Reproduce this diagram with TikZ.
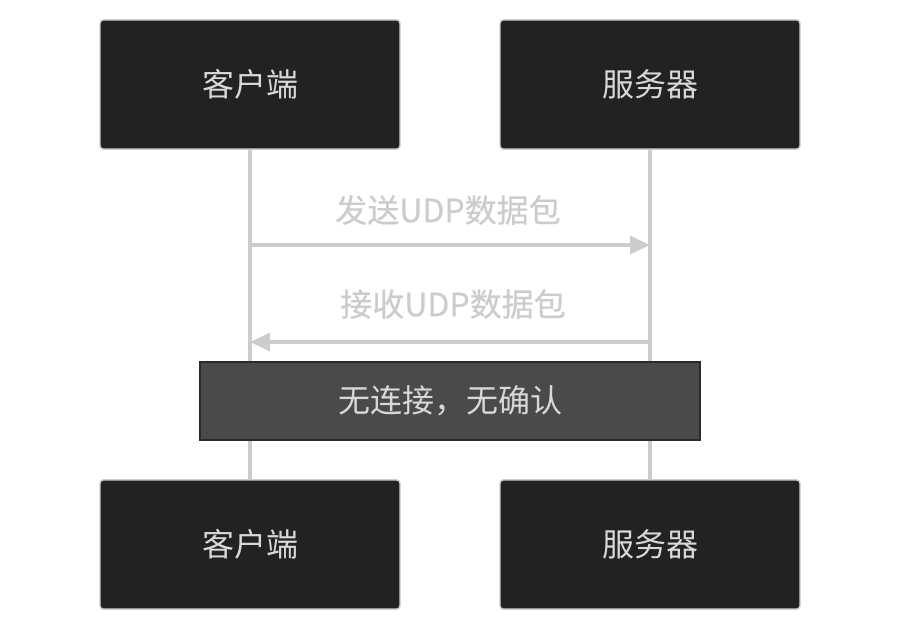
\documentclass[tikz,border=0pt]{standalone}
\usepackage{fontspec}
\newfontfamily\cjk{Noto Sans CJK SC}
\newfontfamily\cjkm[FakeBold=0.5]{Noto Sans CJK SC}
\usepackage{tikz}
\usetikzlibrary{arrows.meta}
\pgfdeclarelayer{bg}
\pgfsetlayers{bg,main}
\definecolor{boxfill}{HTML}{212221}
\definecolor{boxline}{HTML}{CFCFCF}
\definecolor{notefill}{HTML}{494A49}
\definecolor{noteline}{HTML}{2B2B2B}
\definecolor{txt}{HTML}{D8D8D8}
\definecolor{msgc}{HTML}{CCCCCC}
\tikzset{
    every node/.style={inner sep=0mm, font=\cjk\fontsize{24}{28}\selectfont},
    actor/.style={rectangle, rounded corners=2.5pt, draw=boxline, line width=1.1pt, fill=boxfill, text=txt, minimum width=225pt, minimum height=97pt},
    notebox/.style={rectangle, draw=noteline, line width=1.1pt, fill=notefill, text=txt, minimum width=375pt, minimum height=58.5pt},
    msglabel/.style={text=msgc, font=\cjkm\fontsize{24}{28}\selectfont},
    lifeline/.style={draw=msgc, line width=3pt},
    msg/.style={draw=msgc, line width=2.3pt, -{Triangle[length=15pt, width=13.5pt]}}
}

\begin{document}
\begin{tikzpicture}[x=0.75pt, y=-0.75pt]
        \useasboundingbox (0,0) rectangle (900,632);
        \node (c1) [actor] at (250, 84.5) {客户端};
        \node (s1) [actor] at (650, 84.5) {服务器};
        \node (c2) [actor] at (250, 544.5) {客户端};
        \node (s2) [actor] at (650, 544.5) {服务器};
        \node (n) [notebox] at (450, 401) {无连接，无确认};
        \node (l1) [msglabel] at (448, 210) {发送UDP数据包};
        \node (l2) [msglabel] at (453, 304) {接收UDP数据包};
        \coordinate (m1a) at (250, 245);
        \coordinate (m1b) at (650, 245);
        \coordinate (m2a) at (650, 342);
        \coordinate (m2b) at (250, 342);
        \begin{pgfonlayer}{bg}
                \draw [lifeline] (c1) -- (c2);
                \draw [lifeline] (s1) -- (s2);
        \end{pgfonlayer}
        \draw [msg] (m1a) -- (m1b);
        \draw [msg] (m2a) -- (m2b);
\end{tikzpicture}
\end{document}
